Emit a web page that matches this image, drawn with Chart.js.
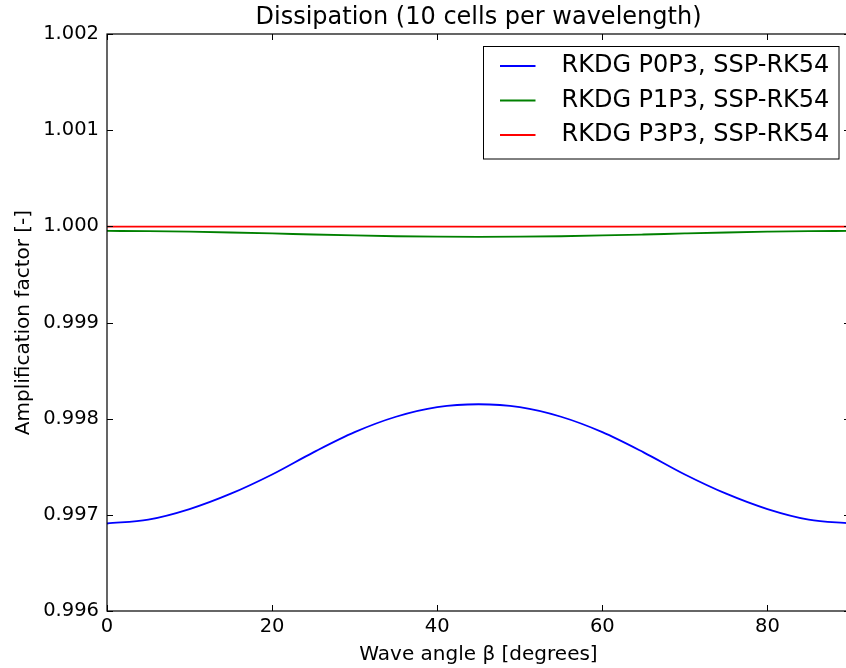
<!DOCTYPE html>
<html lang="en">
<head>
    <meta charset="UTF-8">
    <title>Dissipation (10 cells per wavelength)</title>
    <script src="https://cdn.jsdelivr.net/npm/chart.js"></script>
    <style>
        html, body {
            margin: 0;
            padding: 0;
            overflow: hidden;
            background: #fff;
        }
    </style>
</head>
<body>
    <canvas id="chart" width="852" height="668"></canvas>

    <script>
        // Wave angle beta [degrees]
        const angles = [0, 5, 10, 15, 20, 25, 30, 35, 40, 45, 50, 55, 60, 65, 70, 75, 80, 85, 90];

        // Amplification factor
        const p0p3 = [0.99691, 0.99695, 0.99706, 0.99722, 0.99742, 0.99765, 0.99786, 0.99802, 0.99812, 0.99815,
                      0.99812, 0.99802, 0.99786, 0.99765, 0.99742, 0.99722, 0.99706, 0.99695, 0.99691];
        const p1p3 = [0.999952, 0.999950, 0.999944, 0.999936, 0.999926, 0.999915, 0.999905, 0.999897, 0.999892, 0.999890,
                      0.999892, 0.999897, 0.999905, 0.999915, 0.999926, 0.999936, 0.999944, 0.999950, 0.999952];
        const p3p3 = [0.999998, 0.999998, 0.999998, 0.999998, 0.999998, 0.999998, 0.999998, 0.999998, 0.999998, 0.999998,
                      0.999998, 0.999998, 0.999998, 0.999998, 0.999998, 0.999998, 0.999998, 0.999998, 0.999998];

        const seriesNames = ['RKDG P0P3, SSP-RK54', 'RKDG P1P3, SSP-RK54', 'RKDG P3P3, SSP-RK54'];
        const seriesColors = ['#0000ff', '#008000', '#ff0000'];

        const xTicks = [0, 20, 40, 60, 80];
        const yTicks = [0.996, 0.997, 0.998, 0.999, 1.000, 1.001, 1.002];

        const FONT = 'DejaVu Sans';

        function toPoints(values) {
            return angles.map((a, i) => ({ x: a, y: values[i] }));
        }

        // matplotlib-like frame, inward ticks, title and legend box
        const classicPlugin = {
            id: 'classic',
            afterDatasetsDraw(chart) {
                const ctx = chart.ctx;
                const area = chart.chartArea;
                const xs = chart.scales.x;
                const ys = chart.scales.y;
                const tick = 6;

                ctx.save();
                ctx.strokeStyle = '#000';
                ctx.lineWidth = 1.2;
                ctx.strokeRect(area.left, area.top, area.right - area.left, area.bottom - area.top);

                ctx.lineWidth = 1;
                ctx.beginPath();
                xTicks.forEach(v => {
                    const px = Math.round(xs.getPixelForValue(v)) + 0.5;
                    ctx.moveTo(px, area.bottom); ctx.lineTo(px, area.bottom - tick);
                    ctx.moveTo(px, area.top); ctx.lineTo(px, area.top + tick);
                });
                yTicks.forEach(v => {
                    const py = Math.round(ys.getPixelForValue(v)) + 0.5;
                    ctx.moveTo(area.left, py); ctx.lineTo(area.left + tick, py);
                    ctx.moveTo(area.right, py); ctx.lineTo(area.right - tick, py);
                });
                ctx.stroke();

                // title
                ctx.fillStyle = '#000';
                ctx.font = '24px "' + FONT + '"';
                ctx.textAlign = 'center';
                ctx.textBaseline = 'middle';
                ctx.fillText('Dissipation (10 cells per wavelength)', (area.left + area.right) / 2, 18);

                // legend
                const boxRight = area.right - 11;
                const boxLeft = boxRight - 355.5;
                const boxTop = area.top + 12.5;
                const boxH = 112.5;
                ctx.fillStyle = '#fff';
                ctx.fillRect(boxLeft, boxTop, boxRight - boxLeft, boxH);
                ctx.strokeStyle = '#000';
                ctx.lineWidth = 1;
                ctx.strokeRect(boxLeft, boxTop, boxRight - boxLeft, boxH);

                ctx.textAlign = 'left';
                ctx.font = '24px "' + FONT + '"';
                seriesNames.forEach((name, i) => {
                    const y = boxTop + 19.5 + i * 34.5;
                    ctx.strokeStyle = seriesColors[i];
                    ctx.lineWidth = 1.8;
                    ctx.beginPath();
                    ctx.moveTo(boxLeft + 16.5, y);
                    ctx.lineTo(boxLeft + 52, y);
                    ctx.stroke();
                    ctx.fillStyle = '#000';
                    ctx.fillText(name, boxLeft + 78, y);
                });
                ctx.restore();
            }
        };

        new Chart(document.getElementById('chart').getContext('2d'), {
            type: 'line',
            data: {
                datasets: [p0p3, p1p3, p3p3].map((vals, i) => ({
                    label: seriesNames[i],
                    data: toPoints(vals),
                    borderColor: seriesColors[i],
                    borderWidth: 1.8,
                    pointRadius: 0,
                    fill: false,
                    cubicInterpolationMode: 'monotone'
                }))
            },
            options: {
                responsive: false,
                animation: false,
                layout: { padding: { top: 34, right: 2, left: 0, bottom: 0 } },
                plugins: {
                    legend: { display: false },
                    title: { display: false },
                    tooltip: { enabled: false }
                },
                scales: {
                    x: {
                        type: 'linear',
                        min: 0,
                        max: 90,
                        grid: { display: false, drawTicks: false },
                        border: { display: false },
                        afterBuildTicks: s => { s.ticks = xTicks.map(v => ({ value: v })); },
                        afterFit: s => { s.height = 57; },
                        ticks: {
                            color: '#000',
                            padding: 4,
                            maxRotation: 0,
                            font: { family: FONT, size: 19.5 }
                        },
                        title: {
                            display: true,
                            text: 'Wave angle β [degrees]',
                            color: '#000',
                            padding: { top: 0, bottom: 1 },
                            font: { family: FONT, size: 20 }
                        }
                    },
                    y: {
                        type: 'linear',
                        min: 0.996,
                        max: 1.002,
                        grid: { display: false, drawTicks: false },
                        border: { display: false },
                        afterBuildTicks: s => { s.ticks = yTicks.map(v => ({ value: v })); },
                        afterFit: s => { s.width = 107; },
                        ticks: {
                            color: '#000',
                            padding: 8,
                            font: { family: FONT, size: 19.5 },
                            callback: v => v.toFixed(3)
                        },
                        title: {
                            display: true,
                            text: 'Amplification factor [-]',
                            color: '#000',
                            padding: { top: 12, bottom: 0 },
                            font: { family: FONT, size: 20 }
                        }
                    }
                }
            },
            plugins: [classicPlugin]
        });
    </script>
</body>
</html>
